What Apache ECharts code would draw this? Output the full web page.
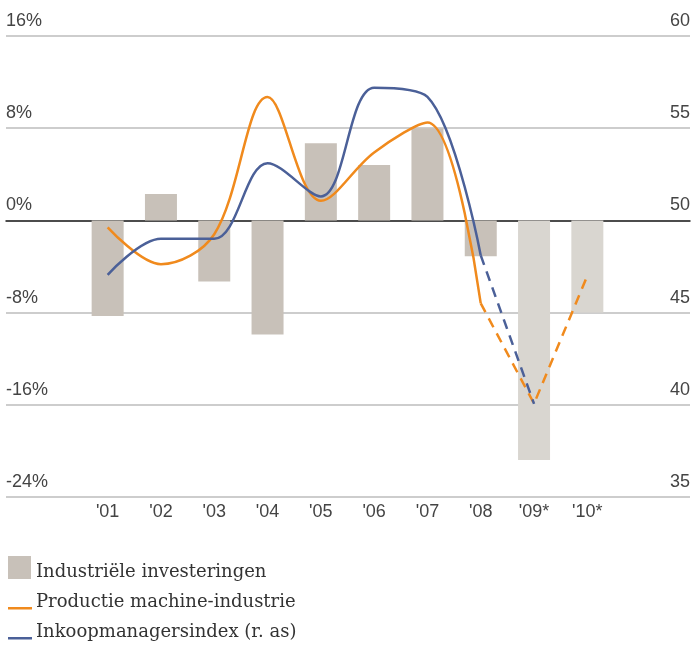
<!DOCTYPE html>
<html>
	<head>
		<meta charset="utf-8">
		<script src="https://cdn.jsdelivr.net/npm/echarts@6/dist/echarts.min.js"></script>
		<title>Investeringen</title>
	</head>
	<body>
		<style>
			html,
			body,
			#main {
				width: 100%;
				height: 100%;
				margin: 0;
				background: #fff;
			}
		</style>
		<div id="main"></div>
		<script type="text/javascript">
			// gegevens
			var jaren = ["'01", "'02", "'03", "'04", "'05", "'06", "'07", "'08", "'09*", "'10*"];
			var investeringen = [-8.3, 2.3, -5.3, -9.9, 6.7, 4.8, 8.0, -3.1, -20.8, -8.0];
			var productie = [-0.6, -3.8, -1.2, 10.7, 1.7, 5.9, 8.5, -7.2, null, null];
			var productiePrognose = [null, null, null, null, null, null, null, -7.2, -15.9, -4.8];
			var inkoop = [47.05, 49.0, 49.0, 53.1, 51.3, 57.2, 56.7, 48.1, null, null];
			var inkoopPrognose = [null, null, null, null, null, null, null, 48.1, 40.05, null];
			var linksTicks = [-24, 16, 8];   // min, max, interval
			var rechtsTicks = [35, 60, 5];

			var labelFont = 'Liberation Sans';
			var tekstKleur = '#444';
			var oranje = '#f08a1d';
			var blauw = '#4b6098';
			var grijs = '#c8c1b9';
			var grijsLicht = '#d9d6d0';
			// legenda-iconen (vak van 24x32, tekst staat op het midden)
			var vakje = 'path://M0,0 L23,0 L23,23 L0,23 Z M24,32 L24.01,32 Z';
			var streepje = 'path://M0,21 L24,21 L24,23.5 L0,23.5 Z M0,0 L0.01,0 Z M24,32 L24.01,32 Z';

			var myChart = echarts.init(document.getElementById('main'));

			var option = {
				animation: false,
				grid: [
					// data
					{ left: 81, right: 80, top: 36, bottom: 148 },
					// rasterlijnen over de volle breedte
					{ left: 6, right: 4, top: 36, bottom: 148 }
				],
				legend: {
					orient: 'vertical',
					left: 8,
					top: 556,
					height: 100,
					padding: 0,
					itemWidth: 24,
					itemHeight: 32,
					itemGap: -2,
					selectedMode: false,
					textStyle: {
						fontFamily: 'DejaVu Serif',
						fontSize: 18,
						color: '#333',
						padding: [0, 0, 0, -1]
					},
					data: [
						{ name: 'Industriële investeringen', icon: vakje, itemStyle: { color: grijs } },
						{ name: 'Productie machine-industrie', icon: streepje, itemStyle: { color: oranje } },
						{ name: 'Inkoopmanagersindex (r. as)', icon: streepje, itemStyle: { color: blauw } }
					]
				},
				xAxis: [
					{
						gridIndex: 0,
						type: 'category',
						data: jaren,
						axisLine: { show: false },
						axisTick: { show: false },
						axisLabel: {
							margin: 6,
							fontFamily: labelFont,
							fontSize: 18,
							color: tekstKleur
						}
					},
					{
						gridIndex: 1,
						type: 'value',
						min: 0,
						max: 1,
						axisLine: { show: true, onZero: true, lineStyle: { color: '#222', width: 1.5 } },
						axisTick: { show: false },
						axisLabel: { show: false },
						splitLine: { show: false }
					}
				],
				yAxis: [
					{
						gridIndex: 0, type: 'value', position: 'left',
						min: linksTicks[0], max: linksTicks[1], interval: linksTicks[2],
						show: false
					},
					{
						gridIndex: 0, type: 'value', position: 'right',
						min: rechtsTicks[0], max: rechtsTicks[1], interval: rechtsTicks[2],
						show: false
					},
					{
						gridIndex: 1, type: 'value', position: 'left',
						min: linksTicks[0], max: linksTicks[1], interval: linksTicks[2],
						axisLine: { show: false },
						axisTick: { show: false },
						splitLine: { lineStyle: { color: '#bdbdbd', width: 1.5 } },
						axisLabel: {
							inside: true,
							margin: 0,
							align: 'left',
							verticalAlign: 'bottom',
							padding: [0, 0, 6, 0],
							formatter: '{value}%',
							fontFamily: labelFont,
							fontSize: 18,
							color: tekstKleur
						}
					},
					{
						gridIndex: 1, type: 'value', position: 'right',
						min: rechtsTicks[0], max: rechtsTicks[1], interval: rechtsTicks[2],
						axisLine: { show: false },
						axisTick: { show: false },
						splitLine: { show: false },
						axisLabel: {
							inside: true,
							margin: 0,
							align: 'right',
							verticalAlign: 'bottom',
							padding: [0, 0, 6, 0],
							fontFamily: labelFont,
							fontSize: 18,
							color: tekstKleur
						}
					}
				],
				series: [
					{
						name: 'Industriële investeringen',
						type: 'bar',
						xAxisIndex: 0,
						yAxisIndex: 0,
						barWidth: 32,
						data: investeringen,
						itemStyle: {
							color: function(p) {
								return p.dataIndex >= 8 ? grijsLicht : grijs;
							}
						}
					},
					{
						name: 'Productie machine-industrie',
						type: 'line',
						xAxisIndex: 0,
						yAxisIndex: 0,
						smooth: 0.35,
						symbol: 'none',
						z: 4,
						data: productie,
						itemStyle: { color: oranje },
						lineStyle: { color: oranje, width: 2.5 }
					},
					{
						name: 'Productie prognose',
						type: 'line',
						xAxisIndex: 0,
						yAxisIndex: 0,
						symbol: 'none',
						z: 4,
						data: productiePrognose,
						lineStyle: { color: oranje, width: 2.5, type: [10, 7] }
					},
					{
						name: 'Inkoopmanagersindex (r. as)',
						type: 'line',
						xAxisIndex: 0,
						yAxisIndex: 1,
						smooth: 0.35,
						symbol: 'none',
						z: 5,
						data: inkoop,
						itemStyle: { color: blauw },
						lineStyle: { color: blauw, width: 2.5 }
					},
					{
						name: 'Inkoop prognose',
						type: 'line',
						xAxisIndex: 0,
						yAxisIndex: 1,
						symbol: 'none',
						z: 5,
						data: inkoopPrognose,
						lineStyle: { color: blauw, width: 2.5, type: [10, 7] }
					}
				]
			};

			myChart.setOption(option);

			window.onresize = function() {
				myChart.resize();
			}
		</script>
	</body>
</html>
